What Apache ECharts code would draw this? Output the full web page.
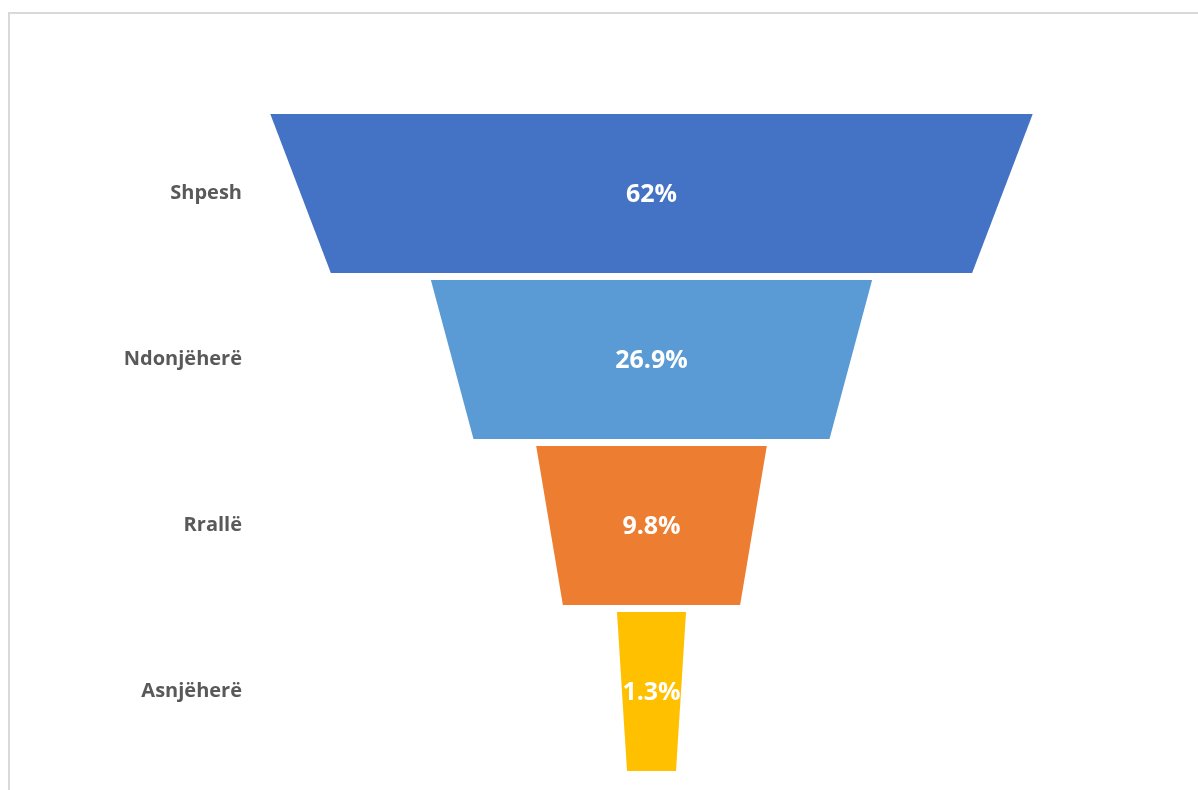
<!DOCTYPE html>
<html>
<head>
<meta charset="utf-8">
<script src="https://cdn.jsdelivr.net/npm/echarts@6/dist/echarts.min.js"></script>
<style>
html,body{margin:0;padding:0;background:#fff;}
#chart{width:1198px;height:790px;}
</style>
</head>
<body>
<div id="chart"></div>
<script>
// ---- data ----
const categories = ['Shpesh', 'Ndonjëherë', 'Rrallë', 'Asnjëherë'];
const values = [62, 26.9, 9.8, 1.3];
const valueLabels = ['62%', '26.9%', '9.8%', '1.3%'];
const colors = ['#4472C4', '#5B9BD5', '#ED7D31', '#FFC000'];

// funnel width scale (power scale of the value, in x-axis units)
function halfTop(v) { return 23.6 * Math.pow(v, 0.67) + 6.4; }
function halfBottom(v) { return 16.17 * Math.pow(v, 0.72) + 4.97; }

const chart = echarts.init(document.getElementById('chart'));
const FONT = '"Open Sans", "Noto Sans", sans-serif';

chart.setOption({
  animation: false,
  backgroundColor: '#ffffff',
  graphic: [{
    type: 'rect',
    shape: { x: 9, y: 13, width: 1250, height: 850 },
    style: { fill: 'none', stroke: '#d9d9d9', lineWidth: 2 },
    silent: true
  }],
  grid: { left: 250, right: 46.5, top: 110.5, bottom: 15.5 },
  xAxis: {
    type: 'value', min: -401.5, max: 500, show: false
  },
  yAxis: {
    type: 'category',
    data: categories,
    inverse: true,
    axisLine: { show: false },
    axisTick: { show: false },
    splitLine: { show: false },
    axisLabel: {
      margin: 8,
      color: '#595959',
      fontWeight: 'bold',
      fontSize: 20,
      fontFamily: FONT
    }
  },
  series: [{
    type: 'custom',
    encode: { x: 0, y: 1 },
    data: values.map((v, i) => [v, i]),
    renderItem: function (params, api) {
      const i = params.dataIndex;
      const v = api.value(0);
      const band = api.size([0, 1])[1];
      const h = band * 0.958;
      const center = api.coord([0, i]);
      const yTop = center[1] - h / 2;
      const yBot = center[1] + h / 2;
      const tl = api.coord([-halfTop(v), i])[0];
      const tr = api.coord([halfTop(v), i])[0];
      const bl = api.coord([-halfBottom(v), i])[0];
      const br = api.coord([halfBottom(v), i])[0];
      return {
        type: 'group',
        children: [{
          type: 'polygon',
          shape: { points: [[tl, yTop], [tr, yTop], [br, yBot], [bl, yBot]] },
          style: { fill: colors[i] }
        }, {
          type: 'text',
          x: center[0],
          y: center[1] + 1.5,
          style: {
            text: valueLabels[i],
            fill: '#ffffff',
            font: 'bold 25px ' + FONT,
            align: 'center',
            verticalAlign: 'middle'
          }
        }]
      };
    }
  }]
});
</script>
</body>
</html>
